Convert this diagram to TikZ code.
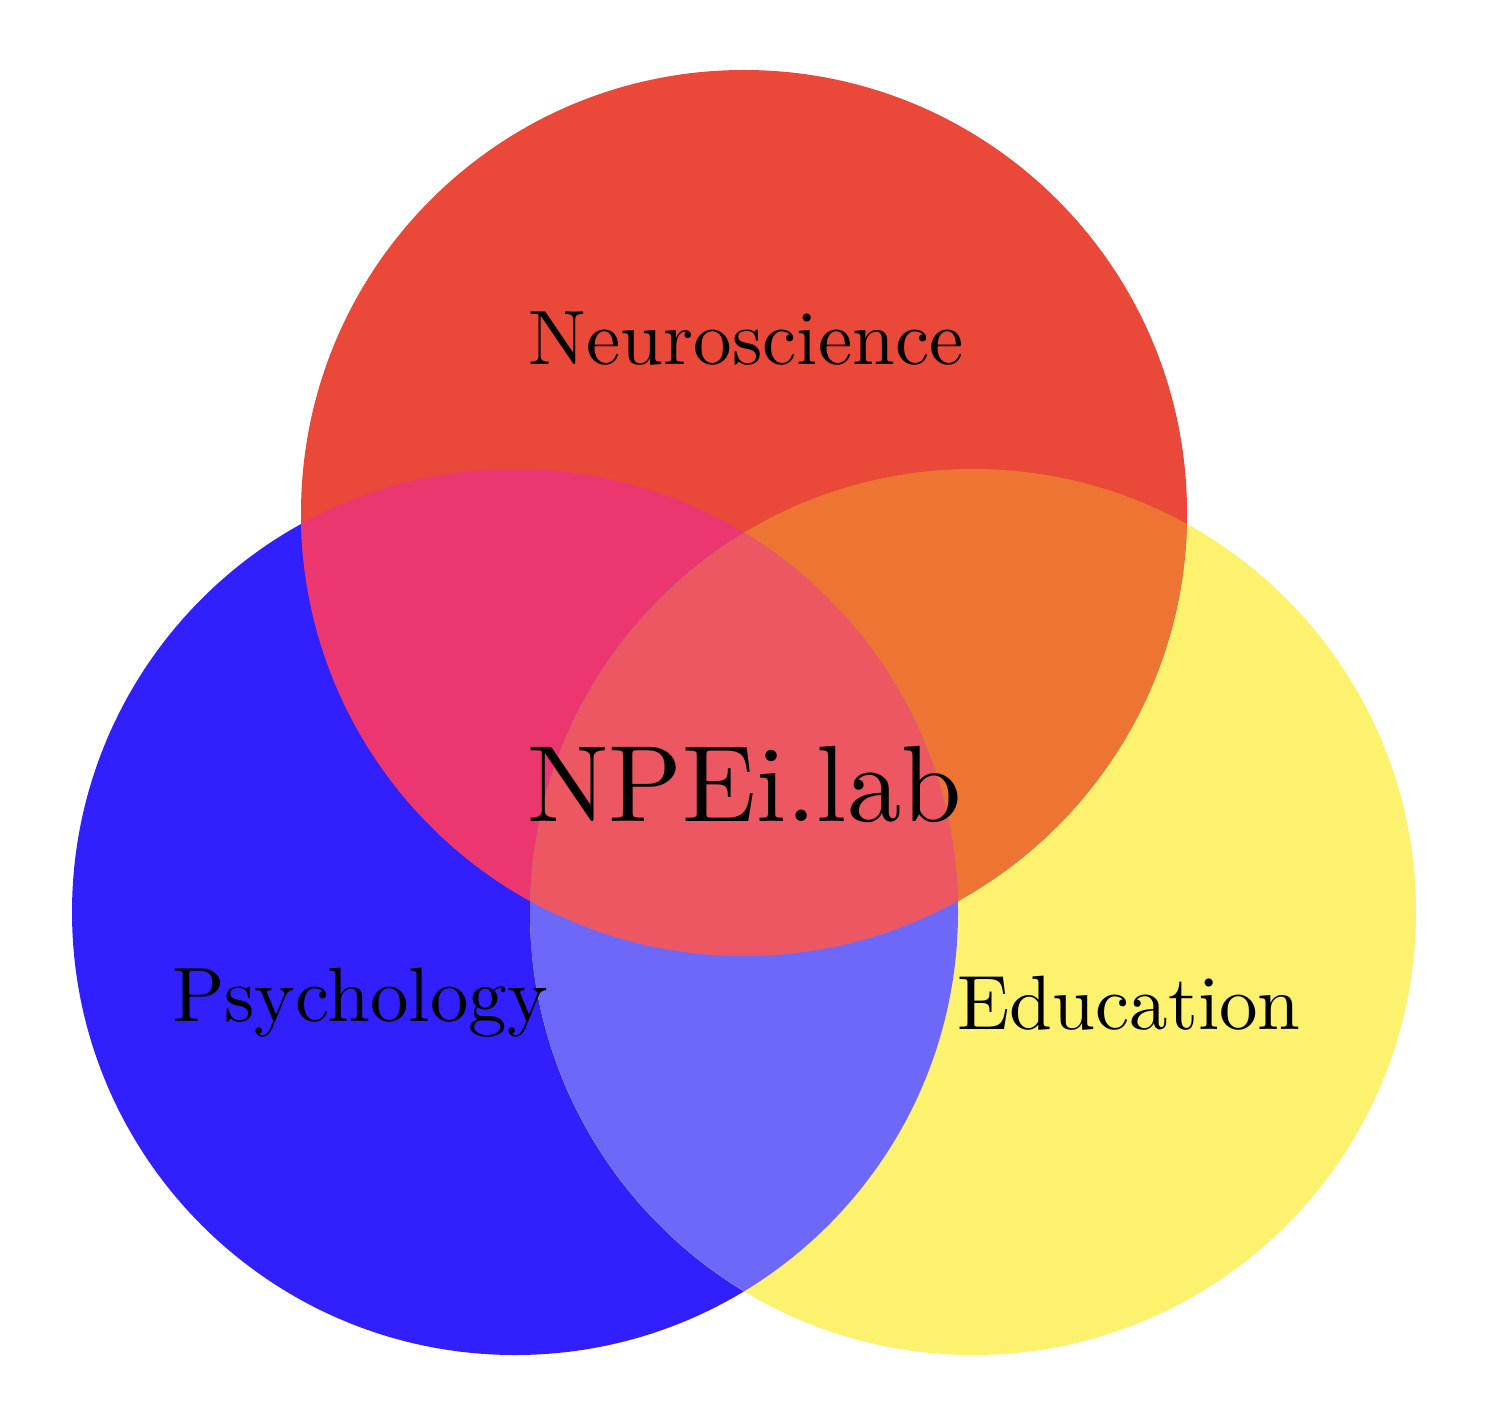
\documentclass[tikz,border=0pt]{standalone}
\usepackage{tikz}
\usepackage{graphicx}

\definecolor{neurocol}{RGB}{234,72,56}
\definecolor{psychcol}{RGB}{49,32,253}
\definecolor{educol}{RGB}{253,242,110}
\definecolor{npcol}{RGB}{236,54,112}
\definecolor{necol}{RGB}{238,116,51}
\definecolor{pecol}{RGB}{110,104,248}
\definecolor{allcol}{RGB}{236,87,98}

\tikzset{every picture/.style={line width=0.75pt}}
\tikzset{label/.style={anchor=base,inner sep=0pt,font=\fontsize{10}{12}\selectfont}}
\newcommand{\biglabel}[1]{\scalebox{1.54}{#1}}
\newcommand{\hugelabel}[1]{\scalebox{2.17}{#1}}

\begin{document}
\begin{tikzpicture}[x=0.2pt,y=0.2pt,yscale=-1,xscale=1]
	\useasboundingbox (0,0) rectangle (1489,1424);
	
	%Circles
	\fill [psychcol] (515,912) circle [radius=443];
	\fill [educol] (973,912) circle [radius=443];
	\fill [neurocol] (744,513) circle [radius=443];
	
	%Overlap Neuroscience / Psychology
	\begin{scope}
		\clip (744,513) circle [radius=443];
		\fill [npcol] (515,912) circle [radius=443];
	\end{scope}
	%Overlap Neuroscience / Education
	\begin{scope}
		\clip (744,513) circle [radius=443];
		\fill [necol] (973,912) circle [radius=443];
	\end{scope}
	%Overlap Psychology / Education
	\begin{scope}
		\clip (515,912) circle [radius=443];
		\fill [pecol] (973,912) circle [radius=443];
	\end{scope}
	%Overlap of all three
	\begin{scope}
		\clip (744,513) circle [radius=443];
		\clip (515,912) circle [radius=443];
		\fill [allcol] (973,912) circle [radius=443];
	\end{scope}
	
	% Text Node
	\node [label] (neuro) at (746,365) {\biglabel{Neuroscience}};
	% Text Node
	\node [label] (lab) at (744.5,821) {\hugelabel{NPEi.lab}};
	% Text Node
	\node [label] (psych) at (360,1021) {\biglabel{Psychology}};
	% Text Node
	\node [label] (edu) at (1129,1029) {\biglabel{Education}};
	
\end{tikzpicture}
\end{document}
